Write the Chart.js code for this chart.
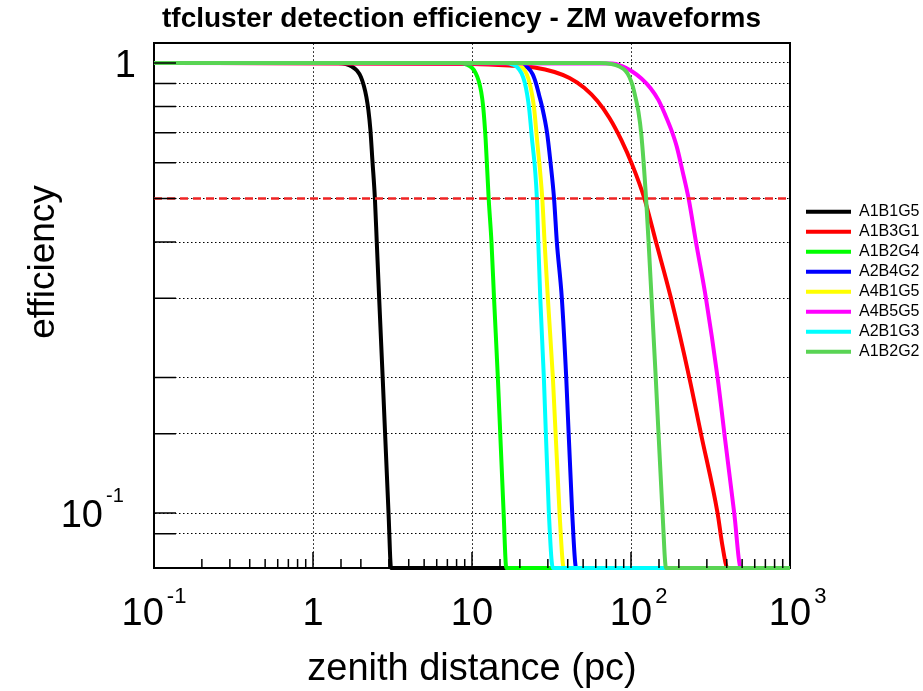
<!DOCTYPE html>
<html>
<head>
<meta charset="utf-8">
<title>tfcluster detection efficiency - ZM waveforms</title>
<script src="https://cdn.jsdelivr.net/npm/chart.js@4.4.1/dist/chart.umd.min.js"></script>
<style>
  html, body { margin: 0; padding: 0; background: #fff; }
  canvas { display: block; }
</style>
</head>
<body>
<canvas id="efficiency-chart" width="923" height="691"></canvas>
<script>
const FONT = "'Liberation Sans', Arial, Helvetica, sans-serif";

// zenith distance (pc) and detection efficiency for each waveform; 0 = not detected
const distA1B1G5 = [0.1, 1.437, 1.611, 1.757, 1.889, 2.001, 2.090, 2.167, 2.230, 2.296, 2.363, 2.451, 2.518, 2.607, 2.743, 2.986, 3.097, 1000];
const effA1B1G5  = [1, 1, 0.995, 0.982, 0.962, 0.931, 0.889, 0.840, 0.786, 0.710, 0.609, 0.5, 0.4, 0.3, 0.2, 0.1, 0, 0];

const distA1B3G1 = [0.1, 10.1, 17.25, 24.75, 33.04, 41.06, 51.0, 61.5, 73.2, 87.0, 102.0, 121.4, 143.7, 178.5, 232.6, 275.5, 350.3, 376.5, 404.6, 1000];
const effA1B3G1  = [1, 0.995, 0.987, 0.977, 0.955, 0.926, 0.880, 0.823, 0.755, 0.674, 0.593, 0.5, 0.4, 0.3, 0.2, 0.15, 0.1, 0.0843, 0, 0];

const distA1B2G4 = [0.1, 8.373, 9.262, 9.957, 10.55, 11.02, 11.43, 11.76, 12.19, 12.73, 13.26, 13.76, 14.54, 15.81, 16.44, 1000];
const effA1B2G4  = [1, 1, 0.992, 0.977, 0.950, 0.912, 0.862, 0.799, 0.674, 0.5, 0.4, 0.3, 0.2, 0.1, 0, 0];

const distA2B4G2 = [0.1, 18.27, 20.51, 22.37, 24.05, 25.29, 26.41, 27.58, 29.65, 31.19, 32.81, 34.17, 36.73, 39.14, 42.68, 45.22, 1000];
const effA2B4G2  = [1, 1, 0.992, 0.977, 0.945, 0.9, 0.849, 0.8, 0.7, 0.6, 0.5, 0.4, 0.3, 0.2, 0.1, 0, 0];

const distA4B1G5 = [0.1, 17.25, 19.36, 20.81, 22.05, 23.02, 23.87, 24.57, 25.66, 27.67, 28.61, 30.0, 32.26, 35.53, 37.81, 1000];
const effA4B1G5  = [1, 1, 0.992, 0.977, 0.945, 0.903, 0.850, 0.794, 0.674, 0.5, 0.4, 0.3, 0.2, 0.1, 0, 0];

const distA4B5G5 = [0.1, 76.4, 87.0, 100.6, 116.2, 132.4, 148.6, 164.4, 179.3, 194.2, 210.2, 230.2, 256.3, 296.1, 350.3, 391.4, 445.8, 491.1, 1000];
const effA4B5G5  = [1, 0.997, 0.985, 0.960, 0.924, 0.880, 0.828, 0.766, 0.710, 0.651, 0.578, 0.5, 0.4, 0.3, 0.2, 0.145, 0.1, 0, 0];

const distA2B1G3 = [0.1, 16.28, 18.01, 19.36, 20.51, 21.42, 22.21, 22.86, 23.71, 25.59, 26.11, 26.88, 28.31, 30.44, 32.26, 1000];
const effA2B1G3  = [1, 1, 0.992, 0.977, 0.948, 0.907, 0.853, 0.794, 0.692, 0.5, 0.4, 0.3, 0.2, 0.1, 0, 0];

const distA1B2G2 = [0.1, 63.34, 75.32, 84.56, 92.22, 97.72, 102.5, 106.6, 111.3, 116.2, 124.4, 129.0, 134.7, 143.1, 157.9, 166.1, 1000];
const effA1B2G2  = [1, 1, 0.995, 0.982, 0.962, 0.931, 0.889, 0.840, 0.780, 0.692, 0.5, 0.4, 0.3, 0.2, 0.1, 0, 0];

const waveforms = ["A1B1G5", "A1B3G1", "A1B2G4", "A2B4G2", "A4B1G5", "A4B5G5", "A2B1G3", "A1B2G2"];
const distances = [distA1B1G5, distA1B3G1, distA1B2G4, distA2B4G2, distA4B1G5, distA4B5G5, distA2B1G3, distA1B2G2];
const efficiencies = [effA1B1G5, effA1B3G1, effA1B2G4, effA2B4G2, effA4B1G5, effA4B5G5, effA2B1G3, effA1B2G2];
const colors = ["#000000", "#ff0000", "#00ff00", "#0000ff", "#ffff00", "#ff00ff", "#00ffff", "#59d454"];

// 50% efficiency reference line
const halfDist = [0.1, 1000];
const halfEff = [0.5, 0.5];

const X_MIN = 0.1, X_MAX = 1000;
const Y_MIN = 0.0755, Y_MAX = 1.106;

const xTickValues = [0.1, 1, 10, 100, 1000];
const xTickLabels = [["10", "-1"], ["1", ""], ["10", ""], ["10", "2"], ["10", "3"]];
const yTickValues = [1, 0.1];
const yTickLabels = [["1", ""], ["10", "-1"]];

const isDecade = v => Math.abs(Math.log10(v) - Math.round(Math.log10(v))) < 1e-9;

const datasets = waveforms.map((name, i) => ({
  label: name,
  // zero efficiency sits on the floor of the log axis
  data: distances[i].map((d, j) => ({ x: d, y: efficiencies[i][j] > 0 ? efficiencies[i][j] : Y_MIN })),
  borderColor: colors[i],
  backgroundColor: colors[i],
  borderWidth: 4,
  pointRadius: 0,
  cubicInterpolationMode: "monotone",
  clip: false,
  order: waveforms.length - i,
}));

datasets.push({
  label: "half",
  data: halfDist.map((d, j) => ({ x: d, y: halfEff[j] })),
  borderColor: "#f02424",
  borderWidth: 2.5,
  borderDash: [8, 5],
  pointRadius: 0,
  order: 0,
});

// ROOT style inward ticks, power-of-ten labels and the rotated y title
const axisDecorations = {
  id: "axisDecorations",
  afterDraw(chart) {
    const { ctx, chartArea, scales: { x, y } } = chart;
    ctx.save();
    ctx.strokeStyle = "#000";
    ctx.lineWidth = 1.5;
    ctx.beginPath();
    for (const t of x.ticks) {
      if (t.value <= x.min || t.value >= x.max) continue;
      const px = x.getPixelForValue(t.value);
      const len = isDecade(t.value) ? 16 : 9;
      ctx.moveTo(px, chartArea.bottom);
      ctx.lineTo(px, chartArea.bottom - len);
    }
    for (const t of y.ticks) {
      if (t.value <= y.min || t.value >= y.max) continue;
      const py = y.getPixelForValue(t.value);
      ctx.moveTo(chartArea.left, py);
      ctx.lineTo(chartArea.left + 22, py);
    }
    ctx.stroke();

    ctx.fillStyle = "#000";
    ctx.textBaseline = "alphabetic";
    ctx.textAlign = "left";
    xTickValues.forEach((v, i) => {
      const [base, exp] = xTickLabels[i];
      const px = x.getPixelForValue(v);
      ctx.font = `38px ${FONT}`;
      const baseW = ctx.measureText(base).width;
      ctx.font = `22px ${FONT}`;
      const expW = exp ? ctx.measureText(exp).width : 0;
      const x0 = exp.startsWith("-") ? px - (baseW + 3 + expW) / 2 : px - baseW / 2;
      const baseline = chartArea.bottom + 57;
      ctx.font = `38px ${FONT}`;
      ctx.fillText(base, x0, baseline);
      if (exp) {
        ctx.font = `22px ${FONT}`;
        ctx.fillText(exp, x0 + baseW + 3, baseline - 22);
      }
    });

    yTickValues.forEach((v, i) => {
      const [base, exp] = yTickLabels[i];
      const py = y.getPixelForValue(v);
      const baseline = py + 14;
      const right = exp ? chartArea.left - 51 : chartArea.left - 18;
      ctx.font = `38px ${FONT}`;
      ctx.textAlign = "right";
      ctx.fillText(base, right, baseline);
      if (exp) {
        ctx.font = `20px ${FONT}`;
        ctx.textAlign = "left";
        ctx.fillText(exp, right + 3, baseline - 25);
      }
    });

    ctx.translate(54, 262);
    ctx.rotate(-Math.PI / 2);
    ctx.font = `37px ${FONT}`;
    ctx.textAlign = "center";
    ctx.fillText("efficiency", 0, 0);
    ctx.restore();
  },
};

const canvas = document.getElementById("efficiency-chart");

new Chart(canvas, {
  type: "line",
  data: { datasets },
  options: {
    responsive: false,
    animation: false,
    devicePixelRatio: 1,
    layout: { padding: 0 },
    plugins: {
      title: {
        display: true,
        text: "tfcluster detection efficiency - ZM waveforms",
        color: "#000",
        font: { family: FONT, size: 28, weight: "bold", lineHeight: 1 },
        padding: { top: 5, bottom: 10.3 },
      },
      legend: {
        position: "right",
        align: "start",
        maxWidth: 121,
        title: { display: true, text: "", font: { size: 10, lineHeight: 1 }, padding: { top: 189.7, bottom: 0 } },
        labels: {
          color: "#000",
          font: { family: FONT, size: 16 },
          boxWidth: 45,
          boxHeight: 0,
          padding: 4,
          filter: item => item.datasetIndex < waveforms.length,
          sort: (a, b) => a.datasetIndex - b.datasetIndex,
        },
      },
      tooltip: { enabled: false },
    },
    scales: {
      x: {
        type: "logarithmic",
        position: "bottom",
        min: X_MIN,
        max: X_MAX,
        ticks: { display: false },
        grid: {
          drawTicks: false,
          lineWidth: 1,
          color: c => (c.tick && isDecade(c.tick.value) ? "#000" : "rgba(0,0,0,0)"),
        },
        border: { display: true, color: "#000", width: 2, dash: [1.5, 2.5] },
        title: {
          display: true,
          text: "zenith distance (pc)",
          color: "#000",
          font: { family: FONT, size: 38, lineHeight: 1 },
          padding: { top: 83, bottom: 2 },
        },
      },
      y: {
        type: "logarithmic",
        position: "left",
        min: Y_MIN,
        max: Y_MAX,
        ticks: { display: false },
        grid: { drawTicks: false, lineWidth: 1, color: "#000" },
        border: { display: true, color: "#000", width: 2, dash: [1.5, 2.5] },
        afterFit: scale => { scale.width = 154; },
      },
      // plain frame on the top and right sides
      x2: {
        type: "linear",
        position: "top",
        min: 0,
        max: 1,
        ticks: { display: false },
        grid: { display: false, drawTicks: false },
        border: { display: true, color: "#000", width: 2 },
      },
      y2: {
        type: "linear",
        position: "right",
        min: 0,
        max: 1,
        ticks: { display: false },
        grid: { display: false, drawTicks: false },
        border: { display: true, color: "#000", width: 2 },
        afterFit: scale => { scale.width = 12; },
      },
    },
  },
  plugins: [axisDecorations],
});
</script>
</body>
</html>
